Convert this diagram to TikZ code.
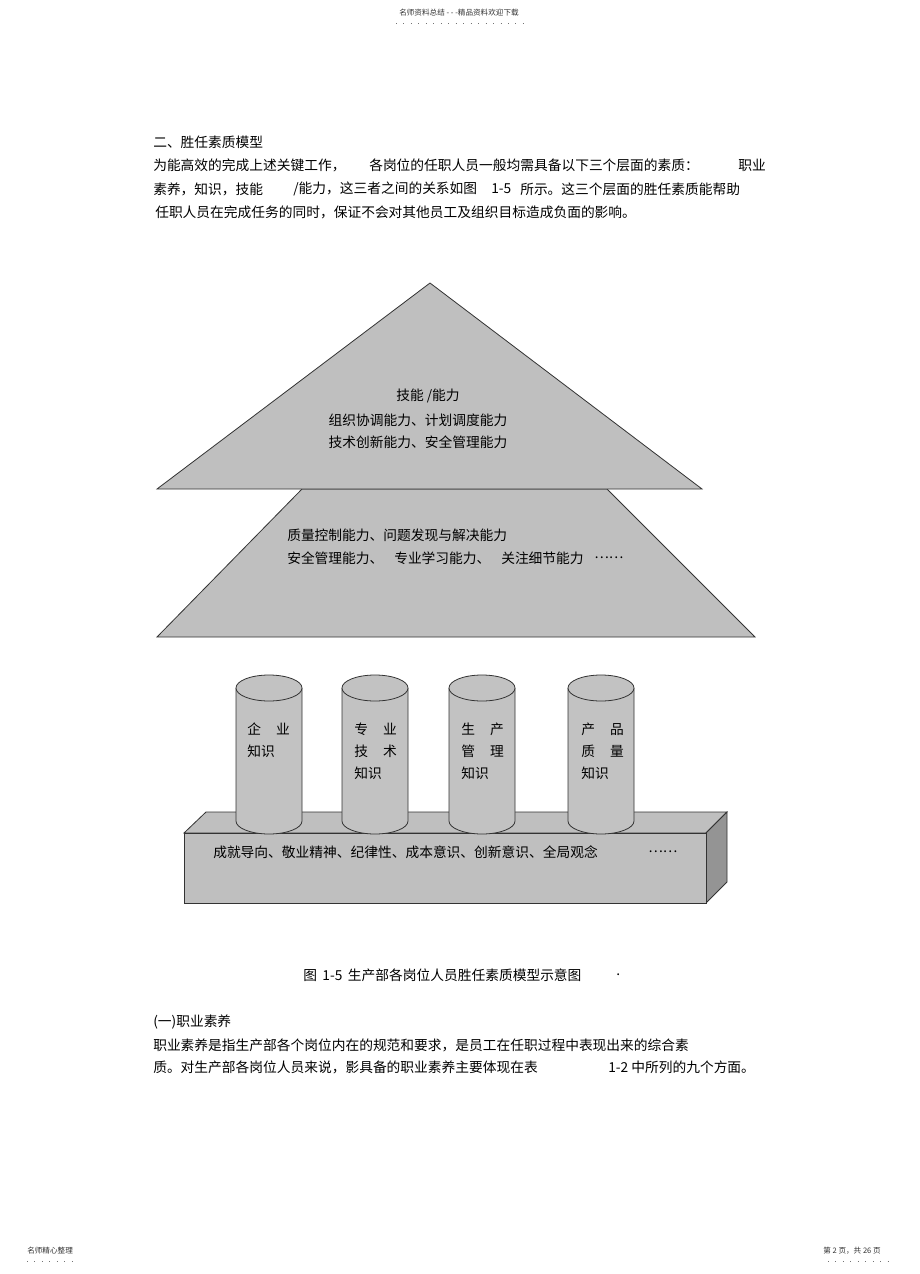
\documentclass[tikz,border=0pt]{standalone}
\usepackage{fontspec}
\newfontfamily\cjk{Noto Sans CJK SC}
\begin{document}
\begin{tikzpicture}[x=0.75pt,y=-0.75pt,
  txt/.style={font=\cjk\fontsize{10.3}{12}\selectfont, inner sep=0pt, anchor=west, text=black},
  ctxt/.style={txt, anchor=center},
  small/.style={font=\cjk\fontsize{5.7}{6}\selectfont, inner sep=0pt, text=black!80},
  dots/.style={black!55, line width=0.6pt, dash pattern=on 0.7pt off 4.9pt},
  graybox/.style={draw=black!80, line width=0.6pt, fill=black!25},
  sidefill/.style={draw=black!80, line width=0.6pt, fill=black!42},
  cyl/.style={draw=black!80, line width=0.6pt, fill=black!24}]
\useasboundingbox[fill=white] (0,0) rectangle (920,1274);

% header / footers
\node[small] (hdr) at (459,13) {名师资料总结 - - -精品资料欢迎下载};
\draw[dots] (396,23) -- (526,23);
\node[small, anchor=west] (fl) at (27,1251) {名师精心整理};
\draw[dots] (27,1261) -- (78,1261);
\node[small, anchor=west] (fr) at (823,1251) {第 2 页，共 26 页};
\draw[dots] (828,1261) -- (892,1261);

% top paragraph
\node[txt] (h2) at (153,142) {二、胜任素质模型};
\node[txt] (p1a) at (153,165) {为能高效的完成上述关键工作，};
\node[txt] (p1b) at (369,165) {各岗位的任职人员一般均需具备以下三个层面的素质：};
\node[txt] (p1c) at (738,165) {职业};
\node[txt] (p2a) at (153,189) {素养，知识，技能};
\node[txt] (p2b) at (293,189) {/能力，这三者之间的关系如图};
\node[txt] (p2c) at (491,189) {1-5};
\node[txt] (p2d) at (520,189) {所示。这三个层面的胜任素质能帮助};
\node[txt] (p3) at (155,212) {任职人员在完成任务的同时，保证不会对其他员工及组织目标造成负面的影响。};

% trapezoid (middle layer)
\draw[graybox] (302,489) -- (607,489) -- (755,637) -- (157,637) -- cycle;
% triangle (top layer)
\draw[graybox] (430,283) -- (702,489) -- (157,489) -- cycle;

\node[ctxt] (t1) at (428,396) {技能 /能力};
\node[ctxt] (t2) at (418,420) {组织协调能力、计划调度能力};
\node[ctxt] (t3) at (418,442) {技术创新能力、安全管理能力};

\node[txt] (m1) at (287,535) {质量控制能力、问题发现与解决能力};
\node[txt] (m2a) at (287,558) {安全管理能力、};
\node[txt] (m2b) at (394,558) {专业学习能力、};
\node[txt] (m2c) at (501,558) {关注细节能力};
\node[txt] (m2d) at (594,558) {……};

% base box
\draw[graybox] (184,833) -- (206,812) -- (727,812) -- (706,833) -- cycle;
\draw[sidefill] (706,833) -- (727,812) -- (727,882) -- (706,903) -- cycle;
\draw[graybox] (184,833) rectangle (706,903);
\node[txt] (b1) at (213,852) {成就导向、敬业精神、纪律性、成本意识、创新意识、全局观念};
\node[txt] (b2) at (648,852) {……};

% cylinders
\foreach \x/\n in {236/c1,342/c2,449/c3,568/c4}{
  \draw[cyl] (\x,688) -- (\x,821) arc[start angle=180, end angle=0, x radius=33, y radius=13] -- (\x+66,688);
  \draw[cyl] (\x+33,688) ellipse[x radius=33, y radius=13];
}
\node[txt] (k1a) at (247,729) {企\hspace{1.1em}业};
\node[txt] (k1b) at (247,751) {知识};
\node[txt] (k2a) at (354,729) {专\hspace{1.1em}业};
\node[txt] (k2b) at (354,751) {技\hspace{1.1em}术};
\node[txt] (k2c) at (354,773) {知识};
\node[txt] (k3a) at (461,729) {生\hspace{1.1em}产};
\node[txt] (k3b) at (461,751) {管\hspace{1.1em}理};
\node[txt] (k3c) at (461,773) {知识};
\node[txt] (k4a) at (581,729) {产\hspace{1.1em}品};
\node[txt] (k4b) at (581,751) {质\hspace{1.1em}量};
\node[txt] (k4c) at (581,773) {知识};

% caption
\node[txt] (cap) at (303,975) {图\hspace{0.4em}1-5\hspace{0.4em}生产部各岗位人员胜任素质模型示意图};
\node[txt] (capdot) at (616,975) {.};

% bottom paragraph
\node[txt] (s1) at (153,1022) {(一)职业素养};
\node[txt] (s2) at (153,1045) {职业素养是指生产部各个岗位内在的规范和要求，是员工在任职过程中表现出来的综合素};
\node[txt] (s3a) at (153,1067) {质。对生产部各岗位人员来说，影具备的职业素养主要体现在表};
\node[txt] (s3b) at (608,1067) {1-2 中所列的九个方面。};
\end{tikzpicture}
\end{document}
